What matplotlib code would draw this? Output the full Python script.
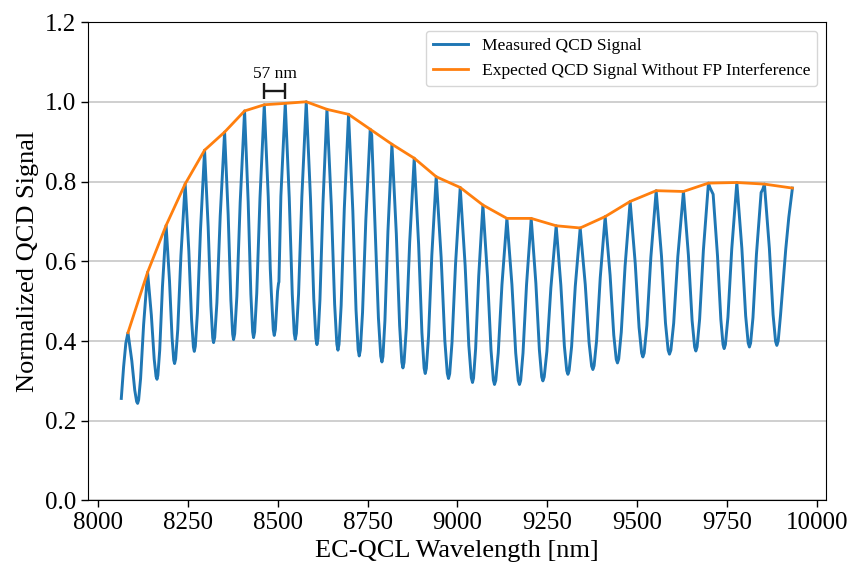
import matplotlib
matplotlib.use("Agg")
import matplotlib.pyplot as plt

# ---- data ----
measured_nm = [
    8064.8, 8071.2, 8077.5, 8083.4,
    8094.1, 8102.2, 8107.5, 8110.2, 8113.0, 8118.5, 8126.9, 8138.0,
    8148.4, 8156.3, 8161.5, 8164.1, 8166.6, 8171.7, 8179.3, 8189.5,
    8198.9, 8206.0, 8210.7, 8213.1, 8216.0, 8221.9, 8230.7, 8242.5,
    8252.7, 8260.3, 8265.4, 8267.9, 8270.8, 8276.5, 8285.1, 8296.5,
    8306.5, 8314.1, 8319.1, 8321.6, 8324.7, 8330.8, 8340.0, 8352.2,
    8362.2, 8369.7, 8374.7, 8377.2, 8380.3, 8386.4, 8395.6, 8407.8,
    8417.8, 8425.3, 8430.3, 8432.8, 8435.8, 8441.7, 8450.7, 8462.6,
    8473.7, 8479.3, 8482.1, 8487.6, 8490.4, 8493.5, 8499.6, 8502.3, 8503.4, 8508.8, 8521.0,
    8532.1, 8540.5, 8546.0, 8548.8, 8551.9, 8558.0, 8567.2, 8579.4,
    8591.3, 8600.3, 8606.2, 8609.2, 8612.0, 8617.5, 8625.9, 8637.0,
    8649.2, 8658.4, 8664.5, 8667.6, 8670.6, 8676.5, 8685.3, 8697.1,
    8709.0, 8717.9, 8723.8, 8726.8, 8729.9, 8736.0, 8745.2, 8757.4,
    8761.5, 8770.4, 8780.2, 8786.7, 8790.0, 8792.8, 8798.3, 8806.7, 8817.8,
    8830.0, 8839.2, 8845.3, 8848.4, 8851.5, 8857.8, 8867.2, 8879.8,
    8892.0, 8901.2, 8907.3, 8910.4, 8913.5, 8919.6, 8928.8, 8941.0,
    8954.7, 8964.9, 8971.8, 8975.2, 8978.5, 8985.0, 8994.8, 9007.8,
    9021.5, 9031.7, 9038.6, 9042.0, 9044.9, 9050.7, 9059.3, 9070.9,
    9083.8, 9093.5, 9100.0, 9103.2, 9106.7, 9113.6, 9123.9, 9137.7,
    9151.7, 9162.2, 9169.2, 9172.7, 9176.0, 9182.5, 9192.3, 9205.3,
    9218.3, 9228.1, 9234.5, 9237.8, 9241.5, 9248.9, 9260.0, 9274.8,
    9287.8, 9297.6, 9304.1, 9307.4, 9310.8, 9317.7, 9327.9, 9341.6,
    9355.7, 9366.3, 9373.4, 9376.9, 9380.3, 9387.2, 9397.4, 9411.1,
    9424.8, 9435.0, 9441.9, 9445.3, 9448.8, 9455.9, 9466.5, 9480.6,
    9494.8, 9505.4, 9512.5, 9516.0, 9519.7, 9527.1, 9538.2, 9553.0,
    9567.8, 9578.9, 9586.3, 9590.0, 9593.9, 9601.7, 9613.3, 9628.9,
    9642.7, 9653.0, 9660.0, 9663.4, 9666.9, 9673.9, 9684.4, 9698.4,
    9702.5, 9711.5, 9723.7, 9732.9, 9739.0, 9742.1, 9745.6, 9752.7, 9763.3, 9777.4,
    9791.4, 9802.0, 9809.0, 9812.5, 9815.8, 9822.3, 9832.0, 9845.0, 9849.5, 9854.2,
    9868.0, 9878.3, 9885.2, 9888.7, 9892.5, 9899.0, 9906.0, 9911.5, 9913.5, 9922.0, 9932.1,
]
measured_val = [
    0.256, 0.335, 0.395, 0.421,
    0.350, 0.277, 0.248, 0.2435, 0.252, 0.306, 0.441, 0.5725,
    0.465, 0.355, 0.311, 0.304, 0.314, 0.377, 0.536, 0.690,
    0.551, 0.409, 0.352, 0.3435, 0.355, 0.429, 0.614, 0.794,
    0.626, 0.454, 0.385, 0.374, 0.387, 0.470, 0.677, 0.8785,
    0.686, 0.488, 0.408, 0.396, 0.409, 0.496, 0.713, 0.924,
    0.716, 0.502, 0.417, 0.4035, 0.418, 0.513, 0.748, 0.977,
    0.750, 0.517, 0.423, 0.4085, 0.423, 0.520, 0.759, 0.9925,
    0.761, 0.581, 0.524, 0.429, 0.414, 0.429, 0.525, 0.545, 0.548, 0.763, 0.996,
    0.759, 0.517, 0.419, 0.404, 0.419, 0.517, 0.762, 1.000,
    0.756, 0.507, 0.406, 0.391, 0.406, 0.503, 0.745, 0.981,
    0.739, 0.492, 0.392, 0.377, 0.392, 0.489, 0.732, 0.9685,
    0.726, 0.478, 0.378, 0.3625, 0.377, 0.471, 0.704, 0.931,
    0.916, 0.698, 0.458, 0.362, 0.3475, 0.361, 0.451, 0.675, 0.8935,
    0.669, 0.439, 0.347, 0.3325, 0.346, 0.432, 0.648, 0.8585,
    0.643, 0.421, 0.332, 0.3185, 0.331, 0.412, 0.615, 0.812,
    0.610, 0.402, 0.319, 0.306, 0.318, 0.397, 0.593, 0.785,
    0.589, 0.389, 0.308, 0.296, 0.307, 0.381, 0.563, 0.741,
    0.561, 0.377, 0.302, 0.291, 0.301, 0.370, 0.541, 0.7075,
    0.541, 0.370, 0.301, 0.291, 0.301, 0.370, 0.541, 0.7075,
    0.5445, 0.377, 0.310, 0.300, 0.310, 0.374, 0.533, 0.689,
    0.540, 0.387, 0.326, 0.3165, 0.326, 0.386, 0.537, 0.6835,
    0.5415, 0.396, 0.337, 0.3285, 0.338, 0.401, 0.559, 0.712,
    0.565, 0.415, 0.354, 0.345, 0.355, 0.422, 0.588, 0.750,
    0.594, 0.434, 0.370, 0.360, 0.370, 0.439, 0.610, 0.777,
    0.613, 0.445, 0.377, 0.367, 0.377, 0.4445, 0.612, 0.775,
    0.615, 0.451, 0.385, 0.375, 0.3855, 0.455, 0.628, 0.796,
    0.785, 0.768, 0.613, 0.4545, 0.391, 0.381, 0.391, 0.460, 0.631, 0.7975,
    0.6325, 0.463, 0.395, 0.385, 0.395, 0.4586, 0.6175, 0.7725, 0.780, 0.7935,
    0.632, 0.466, 0.399, 0.389, 0.400, 0.465, 0.545, 0.605, 0.630, 0.710, 0.7835,
]

expected_nm = [
    8083.4, 8138.0, 8189.5, 8242.5, 8296.5, 8352.2, 8407.8, 8462.6, 8521.0,
    8579.4, 8637.0, 8697.1, 8757.4, 8817.8, 8879.8, 8941.0, 9007.8, 9070.9,
    9137.7, 9205.3, 9274.8, 9341.6, 9411.1, 9480.6, 9553.0, 9628.9, 9698.4,
    9777.4, 9854.2, 9932.1,
]
expected_val = [
    0.421, 0.5725, 0.690, 0.794, 0.8785, 0.924, 0.977, 0.9925, 0.996,
    1.000, 0.981, 0.9685, 0.931, 0.8935, 0.8585, 0.812, 0.785, 0.741,
    0.7075, 0.7075, 0.689, 0.6835, 0.712, 0.750, 0.777, 0.775, 0.796,
    0.7975, 0.7935, 0.7835,
]

fsr_start_nm = 8462.6
fsr_end_nm = 8521.0
fsr_level = 1.027
fsr_label = "57 nm"

labels = ["Measured QCD Signal", "Expected QCD Signal Without FP Interference"]
y_ticks = [0.0, 0.2, 0.4, 0.6, 0.8, 1.0, 1.2]

plt.rcParams["font.family"] = ["Liberation Serif", "DejaVu Serif"]

fig = plt.figure(figsize=(8.51, 5.69), dpi=100)
ax = fig.add_axes([0.1031, 0.1204, 0.8675, 0.8409])

ax.plot(measured_nm, measured_val, color="#1f77b4", lw=2.1, label=labels[0], zorder=3)
ax.plot(expected_nm, expected_val, color="#ff7f0e", lw=2.0, label=labels[1], zorder=4)

mid = (fsr_start_nm + fsr_end_nm) / 2
ax.errorbar([mid], [fsr_level], xerr=[(fsr_end_nm - fsr_start_nm) / 2], fmt="none",
            ecolor="#1a1a1a", elinewidth=1.7, capsize=5.5, capthick=1.7, zorder=5)
ax.text(mid, fsr_level + 0.022, fsr_label, ha="center", va="bottom", fontsize=12.5)

ax.set_ylim(0, 1.2)
ax.set_yticks(y_ticks)
ax.set_xticks([8000, 8250, 8500, 8750, 9000, 9250, 9500, 9750, 10000])
ax.yaxis.grid(True, color="#cccccc", lw=1.3)
ax.set_axisbelow(True)
ax.tick_params(labelsize=18, length=5, width=1.0)

ax.set_xlabel("EC-QCL Wavelength [nm]", fontsize=19)
ax.set_ylabel("Normalized QCD Signal", fontsize=19)

ax.legend(loc="upper right", fontsize=12.6, handlelength=2.0)

fig.savefig("out.png", dpi=100)
